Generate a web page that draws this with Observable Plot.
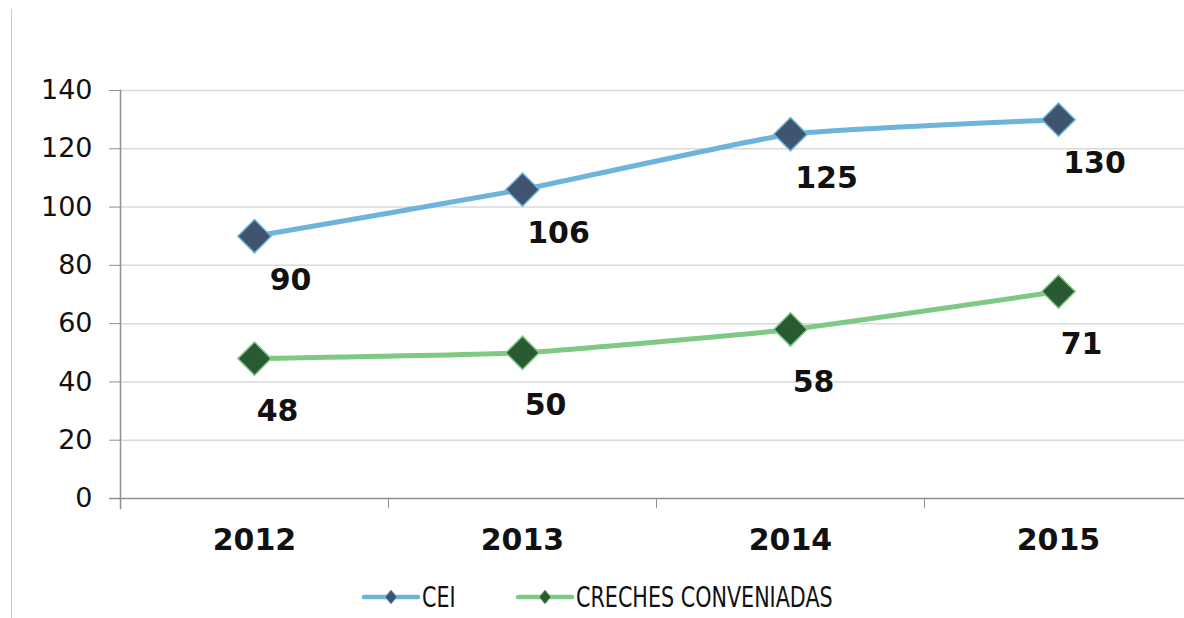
<!DOCTYPE html>
<html>
<head>
<meta charset="utf-8">
<script src="https://cdn.jsdelivr.net/npm/d3@7"></script>
<script src="https://cdn.jsdelivr.net/npm/@observablehq/plot@0.6"></script>
<style>
  html, body { margin: 0; padding: 0; background: #fff; overflow: hidden; }
  #wrap { position: relative; width: 1184px; height: 618px; }
  #border { position: absolute; left: 11px; top: 9px; width: 1px; height: 609px; background: #c9c9c9; }
  #chart { position: absolute; left: 0; top: 0; }
  #legend { position: absolute; left: 0; top: 575px; width: 1184px; height: 43px; }
  .item { position: absolute; top: 0; height: 43px; display: flex; align-items: center; }
  .item span { font-family: "DejaVu Sans Condensed", "DejaVu Sans", sans-serif; font-stretch: condensed; font-size: 23px; color: #111; display: inline-block; transform: scaleY(1.25); transform-origin: left center; margin-left: 2px; }
</style>
</head>
<body>
<div id="wrap">
  <div id="border"></div>
  <div id="chart"></div>
  <div id="legend"></div>
</div>
<script>
// ---- data ----
const years = [2012, 2013, 2014, 2015];
const ceiValues = [90, 106, 125, 130];
const crechesValues = [48, 50, 58, 71];
const seriesNames = ["CEI", "CRECHES CONVENIADAS"];
const yTicks = [0, 20, 40, 60, 80, 100, 120, 140];

// ---- styling ----
const lineColors = {"CEI": "#6db3da", "CRECHES CONVENIADAS": "#7fc985"};
const markerFill = {"CEI": "#3f556f", "CRECHES CONVENIADAS": "#2a5a31"};

const cei = years.map((y, i) => ({year: y, value: ceiValues[i], series: seriesNames[0]}));
const creches = years.map((y, i) => ({year: y, value: crechesValues[i], series: seriesNames[1]}));
const all = cei.concat(creches);
const bandEdges = [years[0] - 0.5, ...years.map(y => y + 0.5)];

const chart = Plot.plot({
  width: 1184,
  height: 575,
  marginLeft: 120,
  marginRight: -8,
  marginTop: 90,
  marginBottom: 77,
  x: {domain: [years[0] - 0.5, years[years.length - 1] + 0.5]},
  y: {domain: [0, 140]},
  style: {background: "transparent"},
  marks: [
    Plot.ruleY(yTicks.filter(d => d > 0), {stroke: "#d9d9d9", strokeWidth: 1.5}),
    Plot.frame({anchor: "left", stroke: "#8f8f8f", strokeWidth: 1.5, insetBottom: -10}),
    Plot.ruleY([0], {stroke: "#8f8f8f", strokeWidth: 1.5, insetLeft: -11}),
    Plot.axisY({ticks: yTicks, tickSize: 11, tickPadding: 17, stroke: "#8f8f8f", fontSize: 27,
      fontFamily: "DejaVu Sans", fill: "#111", label: null}),
    Plot.axisX({ticks: bandEdges, tickSize: 10, tickFormat: () => "", stroke: "#8f8f8f", label: null}),
    Plot.axisX({ticks: years, tickSize: 0, tickPadding: 30, tickFormat: d => String(d), fontSize: 30,
      fontWeight: "bold", fontFamily: "DejaVu Sans", fill: "#111", label: null}),
    Plot.line(all, {x: "year", y: "value", z: "series", stroke: d => lineColors[d.series],
      strokeWidth: 5, curve: "cardinal", tension: 0.6}),
    Plot.dot(all, {x: "year", y: "value", symbol: "diamond2", r: 15,
      fill: d => markerFill[d.series], stroke: d => lineColors[d.series], strokeWidth: 1.5}),
    Plot.text(cei, {x: "year", y: "value", text: d => String(d.value), dx: 36, dy: 44,
      fontSize: 30, fontWeight: "bold", fontFamily: "DejaVu Sans", fill: "#111"}),
    Plot.text(creches, {x: "year", y: "value", text: d => String(d.value), dx: 23, dy: 53,
      fontSize: 30, fontWeight: "bold", fontFamily: "DejaVu Sans", fill: "#111"})
  ]
});
document.getElementById("chart").appendChild(chart);

// ---- legend ----
const legend = document.getElementById("legend");
const legendLefts = [362, 516];
seriesNames.forEach((name, i) => {
  const item = document.createElement("div");
  item.className = "item";
  item.style.left = legendLefts[i] + "px";
  item.innerHTML = `<svg width="58" height="20" viewBox="0 0 58 20">
      <line x1="2" y1="10" x2="56" y2="10" stroke="${lineColors[name]}" stroke-width="4.5" stroke-linecap="round"/>
      <path d="M29 3 L35 10 L29 17 L23 10 Z" fill="${markerFill[name]}" stroke="${lineColors[name]}" stroke-width="1"/>
    </svg><span>${name}</span>`;
  legend.appendChild(item);
});
</script>
</body>
</html>
